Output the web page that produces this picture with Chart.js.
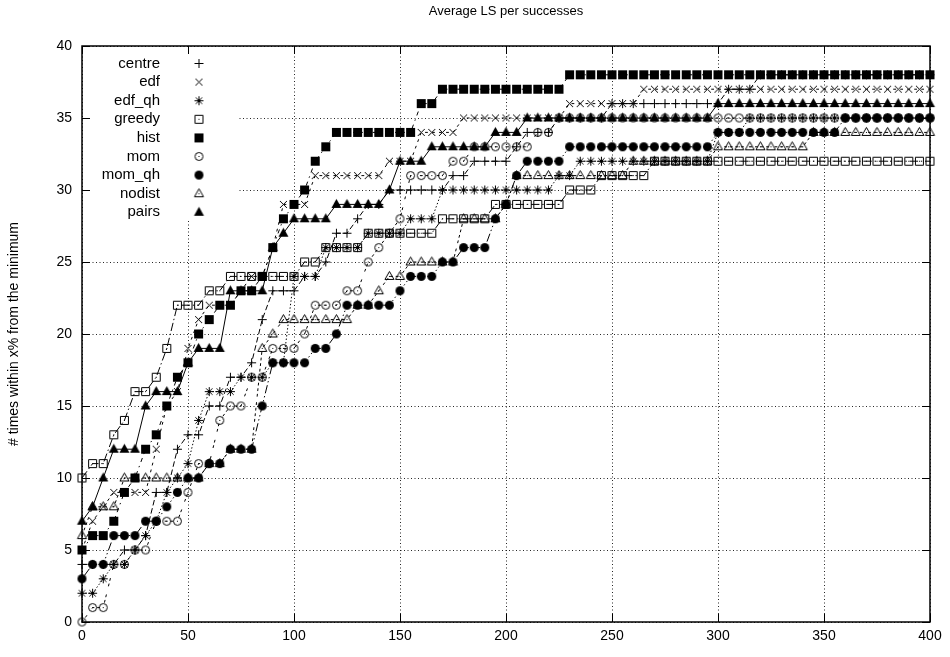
<!DOCTYPE html>
<html><head><meta charset="utf-8">
<script src="https://cdn.jsdelivr.net/npm/chart.js@4.4.0/dist/chart.umd.min.js"></script>
<style>html,body{margin:0;padding:0;background:#fff;}</style>
</head><body>
<canvas id="c" width="950" height="657"></canvas>
<script>
const xValues = [0,5,10,15,20,25,30,35,40,45,50,55,60,65,70,75,80,85,90,95,
 100,105,110,115,120,125,130,135,140,145,150,155,160,165,170,175,180,185,190,195,
 200,205,210,215,220,225,230,235,240,245,250,255,260,265,270,275,280,285,290,295,
 300,305,310,315,320,325,330,335,340,345,350,355,360,365,370,375,380,385,390,395,400];
const seriesNames = ['centre','edf','edf_qh','greedy','hist','mom','mom_qh','nodist','pairs'];
const centre = [4,4,4,4,5,5,6,9,9,12, 13,13,15,15,17,17,18,21,23,23, 23,24,24,25,27,27,28,29,29,30,
 30,30,30,30,30,31,31,32,32,32, 32,33,34,34,34,35,35,35,35,35, 36,36,36,36,36,36,36,36,36,36,
 36,37,37,37,38,38,38,38,38,38, 38,38,38,38,38,38,38,38,38,38, 38];
const edf = [5,7,8,9,9,9,9,12,15,16, 19,21,22,22,22,23,24,24,26,29, 29,29,31,31,31,31,31,31,31,32,
 32,32,34,34,34,34,35,35,35,35, 35,35,35,35,35,35,36,36,36,36, 36,36,36,37,37,37,37,37,37,37,
 37,37,37,37,37,37,37,37,37,37, 37,37,37,37,37,37,37,37,37,37, 37];
const edf_qh = [2,2,3,4,4,5,6,7,9,10, 11,14,16,16,16,17,17,17,18,18, 24,24,24,26,26,26,26,27,27,27,
 27,28,28,28,30,30,30,30,30,30, 30,30,30,30,30,31,31,32,32,32, 32,32,32,32,32,32,32,32,32,32,
 34,34,34,35,35,35,35,35,35,35, 35,35,35,35,35,35,35,35,35,35, 35];
const greedy = [10,11,11,13,14,16,16,17,19,22, 22,22,23,23,24,24,24,24,24,24, 24,25,25,26,26,26,26,27,27,27,
 27,27,27,27,28,28,28,28,28,29, 29,29,29,29,29,29,30,30,30,31, 31,31,31,31,32,32,32,32,32,32,
 32,32,32,32,32,32,32,32,32,32, 32,32,32,32,32,32,32,32,32,32, 32];
const hist = [5,6,6,7,9,10,12,13,15,17, 18,20,21,22,22,23,23,24,26,28, 29,30,32,33,34,34,34,34,34,34,
 34,34,36,36,37,37,37,37,37,37, 37,37,37,37,37,37,38,38,38,38, 38,38,38,38,38,38,38,38,38,38,
 38,38,38,38,38,38,38,38,38,38, 38,38,38,38,38,38,38,38,38,38, 38];
const mom = [0,1,1,4,4,5,5,7,7,7, 9,11,11,14,15,15,17,17,19,19, 19,20,22,22,22,23,23,25,26,27,
 28,31,31,31,31,32,32,33,33,33, 33,33,33,34,34,35,35,35,35,35, 35,35,35,35,35,35,35,35,35,35,
 35,35,35,35,35,35,35,35,35,35, 35,35,35,35,35,35,35,35,35,35, 35];
const mom_qh = [3,4,4,6,6,6,7,7,8,9, 10,10,11,11,12,12,12,15,18,18, 18,18,19,19,20,22,22,22,22,22,
 23,24,24,24,25,25,26,26,26,28, 29,31,32,32,32,32,33,33,33,33, 33,33,33,33,33,33,33,33,33,33,
 34,34,34,34,34,34,34,34,34,34, 34,34,35,35,35,35,35,35,35,35, 35];
const nodist = [6,8,8,8,10,10,10,10,10,10, 10,10,11,11,12,12,12,19,20,21, 21,21,21,21,21,21,22,22,23,24,
 24,25,25,25,25,25,28,28,28,28, 29,31,31,31,31,31,31,31,31,31, 31,31,32,32,32,32,32,32,32,32,
 33,33,33,33,33,33,33,33,33,34, 34,34,34,34,34,34,34,34,34,34, 34];
const pairs = [7,8,10,12,12,12,15,16,16,16, 18,19,19,19,23,23,23,23,26,27, 28,28,28,28,29,29,29,29,29,30,
 32,32,32,33,33,33,33,33,33,34, 34,34,35,35,35,35,35,35,35,35, 35,35,35,35,35,35,35,35,35,35,
 36,36,36,36,36,36,36,36,36,36, 36,36,36,36,36,36,36,36,36,36, 36];
const xTickLabels = [0,50,100,150,200,250,300,350,400];
const yTickLabels = [0,5,10,15,20,25,30,35,40];
const seriesValues = [centre, edf, edf_qh, greedy, hist, mom, mom_qh, nodist, pairs];

const FONT = '"Liberation Sans", Arial, Helvetica, sans-serif';
const markerKinds = ['plus','cross','star','box','fbox','circle','fcircle','tri','ftri'];
const dashes = [[5.6,2.8],[2.8,4.2],[1.4,2.1],[8.4,2.8,1.4,2.8],[4.2,4.2,1.4,4.2],[2.8,2.8,2.8,8.4],[1.4,2.8,8.4,2.8,1.4,2.8],[2.8,2.8,2.8,2.8,2.8,2.8,2.8,5.6],[]];

function marker(kind){
  const s=13, c=document.createElement('canvas'); c.width=s; c.height=s;
  const g=c.getContext('2d'); g.strokeStyle='#000'; g.fillStyle='#000'; g.lineWidth=1;
  const m=6.5;
  g.beginPath();
  switch(kind){
    case 'plus': g.moveTo(2,m); g.lineTo(11,m); g.moveTo(m,2); g.lineTo(m,11); g.stroke(); break;
    case 'cross': g.moveTo(3,3); g.lineTo(10,10); g.moveTo(10,3); g.lineTo(3,10); g.stroke(); break;
    case 'star': g.moveTo(2,m); g.lineTo(11,m); g.moveTo(m,2); g.lineTo(m,11);
      g.moveTo(3.3,3.3); g.lineTo(9.7,9.7); g.moveTo(9.7,3.3); g.lineTo(3.3,9.7); g.stroke(); break;
    case 'box': g.rect(2.5,2.5,8,8); g.stroke(); g.fillRect(6,6,1,1); break;
    case 'fbox': g.fillRect(2,2,9,9); break;
    case 'circle': g.arc(m,m,4,0,Math.PI*2); g.stroke(); g.fillRect(6,6,1,1); break;
    case 'fcircle': g.arc(m,m,4.5,0,Math.PI*2); g.fill(); break;
    case 'tri': g.moveTo(m,1.5); g.lineTo(11,9.5); g.lineTo(2,9.5); g.closePath(); g.stroke(); g.fillRect(6,6,1,1); break;
    case 'ftri': g.moveTo(m,1); g.lineTo(11.5,10); g.lineTo(1.5,10); g.closePath(); g.fill(); break;
  }
  return c;
}
const markers = markerKinds.map(marker);

const datasets = seriesNames.map((name, k) => ({
  label: name,
  data: xValues.map((x, i) => ({x: x, y: seriesValues[k][i]})),
  borderColor: '#000', backgroundColor: '#000', borderWidth: 1,
  borderDash: dashes[k], tension: 0, fill: false,
  pointStyle: markers[k], pointRadius: 4, pointHoverRadius: 4,
  order: 8 - k, clip: false
}));

const gp = {
  id: 'gp',
  beforeDatasetsDraw(chart){
    const {ctx, chartArea: a} = chart;
    ctx.save();
    ctx.fillStyle = '#fff';
    ctx.fillRect(a.left + 1, a.top + 1, 237 - a.left, 220 - a.top);
    ctx.fillStyle = '#000';
    ctx.font = '15px ' + FONT;
    ctx.textAlign = 'right'; ctx.textBaseline = 'middle';
    seriesNames.forEach((n, k) => {
      const y = 63.5 + 18.6 * k;
      ctx.fillText(n, 160, y);
      ctx.drawImage(markers[k], 199 - 6.5, y - 6.5);
    });
    ctx.restore();
  },
  afterDatasetsDraw(chart){
    const {ctx, chartArea: a, scales} = chart;
    ctx.save();
    ctx.strokeStyle = '#000'; ctx.lineWidth = 1; ctx.setLineDash([]);
    ctx.beginPath();
    xTickLabels.forEach(v => {
      const x = Math.round(scales.x.getPixelForValue(v)) + 0.5;
      ctx.moveTo(x, a.bottom); ctx.lineTo(x, a.bottom - 8);
      ctx.moveTo(x, a.top); ctx.lineTo(x, a.top + 8);
    });
    yTickLabels.forEach(v => {
      const y = Math.round(scales.y.getPixelForValue(v)) + 0.5;
      ctx.moveTo(a.left, y); ctx.lineTo(a.left + 8, y);
      ctx.moveTo(a.right, y); ctx.lineTo(a.right - 8, y);
    });
    ctx.stroke();
    ctx.lineWidth = 1.5;
    ctx.strokeRect(a.left, a.top, a.right - a.left, a.bottom - a.top);
    ctx.restore();
  }
};

const tickFont = {family: FONT, size: 14};
new Chart(document.getElementById('c'), {
  type: 'line',
  data: {datasets},
  options: {
    responsive: false, animation: false, devicePixelRatio: 1,
    layout: {padding: {left: 0, right: 20, top: 0, bottom: 0}},
    plugins: {
      legend: {display: false}, tooltip: {enabled: false},
      title: {display: true, text: 'Average LS per successes', fullSize: false, color: '#000',
        font: {family: FONT, size: 13, weight: 'normal'}, padding: {top: 4, bottom: 26.4}}
    },
    scales: {
      x: {type: 'linear', min: xTickLabels[0], max: xTickLabels[xTickLabels.length-1],
        afterFit(s){ s.height = 35; },
        ticks: {stepSize: 50, color: '#000', font: tickFont, padding: 6, maxRotation: 0, autoSkip: false},
        grid: {drawTicks: false, color: 'rgba(0,0,0,0.85)', lineWidth: 1},
        border: {display: false, dash: [1, 2.5]}},
      y: {min: yTickLabels[0], max: yTickLabels[yTickLabels.length-1],
        afterFit(s){ s.width = 82; },
        ticks: {stepSize: 5, color: '#000', font: tickFont, padding: 10},
        title: {display: true, text: '# times within x% from the minimum', color: '#000',
          font: {family: FONT, size: 14}, padding: {top: 6, bottom: 0}},
        grid: {drawTicks: false, color: 'rgba(0,0,0,0.85)', lineWidth: 1},
        border: {display: false, dash: [1, 2.5]}}
    }
  },
  plugins: [gp]
});
</script>
</body></html>
